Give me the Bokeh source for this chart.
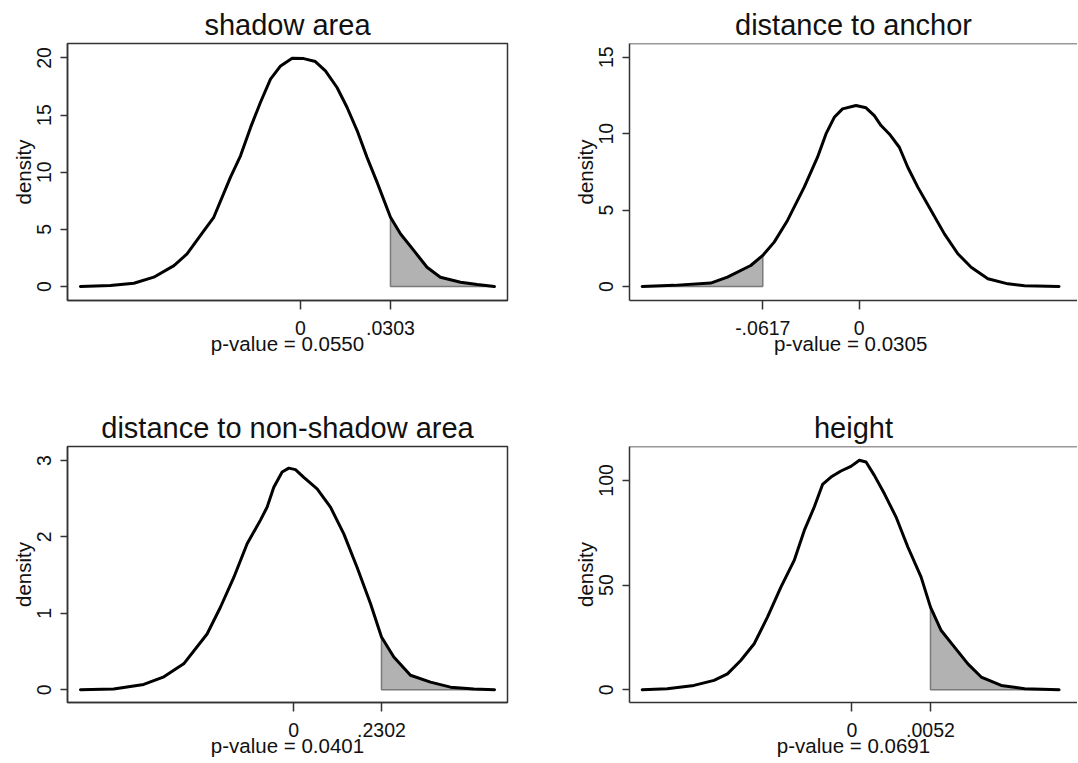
import numpy as np
from bokeh.plotting import figure
from bokeh.layouts import column, row
from bokeh.models import FixedTicker, Range1d, Span
from bokeh.embed import file_html
from bokeh.resources import INLINE

# ---------------- data ----------------
titles = ["shadow area", "distance to anchor", "distance to non-shadow area", "height"]
observed = [0.0303, -0.0617, 0.2302, 0.0052]
observed_labels = [".0303", "-.0617", ".2302", ".0052"]
p_value_labels = ["p-value = 0.0550", "p-value =  0.0305", "p-value = 0.0401", "p-value = 0.0691"]
tail_side = ["right", "left", "right", "right"]
y_ticks = [[0, 5, 10, 15, 20], [0, 5, 10, 15], [0, 1, 2, 3], [0, 50, 100]]

x_shadow = [-0.0741, -0.064, -0.0561, -0.0494, -0.0426, -0.0382, -0.0325, -0.0292, -0.0236,
            -0.0202, -0.0168, -0.0135, -0.0101, -0.0067, -0.0028, 0.0011, 0.005, 0.0084,
            0.0123, 0.0157, 0.0191, 0.0224, 0.0258, 0.0303, 0.0337, 0.0382, 0.0426, 0.0471,
            0.0539, 0.0595, 0.0653]
d_shadow = [0, 0.09, 0.29, 0.82, 1.83, 2.85, 4.89, 6.06, 9.55, 11.44, 13.92, 16.1, 18.14,
            19.3, 19.97, 19.94, 19.68, 18.86, 17.41, 15.66, 13.62, 11.3, 9.11, 6.06, 4.6,
            3.14, 1.69, 0.82, 0.38, 0.17, 0]

x_anchor = [-0.1388, -0.1185, -0.095, -0.0843, -0.0694, -0.0617, -0.0544, -0.0459, -0.0352,
            -0.0267, -0.0213, -0.016, -0.0107, -0.0021, 0.0043, 0.0096, 0.0139, 0.0192,
            0.0256, 0.031, 0.0374, 0.0459, 0.0544, 0.063, 0.0715, 0.0822, 0.095, 0.1057,
            0.1277]
d_anchor = [0, 0.07, 0.22, 0.61, 1.37, 2.03, 2.9, 4.32, 6.5, 8.46, 9.98, 11.07, 11.62, 11.84,
            11.69, 11.18, 10.53, 9.98, 9.11, 7.8, 6.5, 4.97, 3.44, 2.14, 1.26, 0.5, 0.17,
            0.04, 0]

x_nonshadow = [-0.56, -0.473, -0.394, -0.341, -0.289, -0.2276, -0.1926, -0.1575, -0.1225,
               -0.0875, -0.07, -0.0525, -0.0306, -0.0131, 0.0044, 0.0263, 0.0613, 0.0963,
               0.1313, 0.1663, 0.2013, 0.2302, 0.2626, 0.3063, 0.3589, 0.4114, 0.4726, 0.527]
d_nonshadow = [0, 0.01, 0.07, 0.17, 0.34, 0.73, 1.08, 1.47, 1.91, 2.22, 2.39, 2.65, 2.85, 2.9,
               2.88, 2.78, 2.63, 2.39, 2.04, 1.6, 1.13, 0.69, 0.43, 0.19, 0.1, 0.035, 0.01, 0]

x_height = [-0.0139, -0.01224, -0.01047, -0.00914, -0.00825, -0.00737, -0.00648, -0.0056,
            -0.00471, -0.00383, -0.00316, -0.0025, -0.00195, -0.00139, -0.00073, -0.00007,
            0.00049, 0.00093, 0.00148, 0.00215, 0.00292, 0.0037, 0.00458, 0.0052, 0.00591,
            0.00679, 0.00768, 0.00856, 0.00989, 0.01144, 0.01372]
d_height = [0, 0.5, 2.1, 4.5, 7.6, 14, 22, 34.7, 49, 61.8, 76.1, 87.3, 98.1, 101.6, 104.5,
            106.7, 109.6, 108.8, 102.4, 93.6, 82.5, 68.2, 53.8, 39.5, 28.3, 20.4, 12.4, 6.1,
            2.1, 0.5, 0]

xs = [x_shadow, x_anchor, x_nonshadow, x_height]
ds = [d_shadow, d_anchor, d_nonshadow, d_height]

x_ranges = [(-0.07845, 0.0697), (-0.1469, 0.1395), (-0.594, 0.561), (-0.01474, 0.01494)]
y_ranges = [(-1.22, 21.26), (-0.92, 15.9), (-0.166, 3.183), (-6.07, 116.2)]

FONT = "Liberation Sans"
FRAME_COLOR = "#333333"


def make_panel(i, left_col, top_row):
    if top_row:
        mbt, fh, mbb = 43, 257, 90
    else:
        mbt, fh, mbb = 56, 256, 61
    if left_col:
        mbl, fw, mbr = 67, 440, 30
    else:
        mbl, fw, mbr = 92, 448, 0
    p = figure(frame_width=fw, frame_height=fh,
               min_border_left=mbl, min_border_right=mbr,
               min_border_top=mbt, min_border_bottom=mbb,
               x_range=Range1d(*x_ranges[i]), y_range=Range1d(*y_ranges[i]),
               output_backend="svg", toolbar_location=None, title=titles[i])
    p.title.text_font = FONT
    p.title.text_font_size = "29px"
    p.title.text_font_style = "normal"
    p.title.text_color = "#111111"
    p.title.align = "center"
    p.title.standoff = 5

    p.xgrid.visible = False
    p.ygrid.visible = False
    p.background_fill_color = "white"
    p.border_fill_color = "white"
    if left_col:
        p.outline_line_color = FRAME_COLOR
        p.outline_line_width = 1.5
        p.outline_line_alpha = 1.0
    else:
        p.outline_line_color = None
        p.add_layout(Span(location=y_ranges[i][1], dimension="width",
                          line_color=FRAME_COLOR, line_width=1.5))

    x = np.array(xs[i], dtype=float)
    d = np.array(ds[i], dtype=float)
    obs = observed[i]
    d_obs = float(np.interp(obs, x, d))
    if tail_side[i] == "right":
        m = x > obs
        tx = np.concatenate([[obs], x[m]])
        ty = np.concatenate([[d_obs], d[m]])
        px = np.concatenate([[obs], tx, [tx[-1]]])
        py = np.concatenate([[0.0], ty, [0.0]])
    else:
        m = x < obs
        tx = np.concatenate([x[m], [obs]])
        ty = np.concatenate([d[m], [d_obs]])
        px = np.concatenate([[tx[0]], tx, [obs]])
        py = np.concatenate([[0.0], ty, [0.0]])
    p.patch(px, py, fill_color="#b2b2b2", line_color="#7a7a7a", line_width=1.5)
    p.line(x, d, line_color="black", line_width=3, line_join="round", line_cap="round")

    # x axis
    xa = p.xaxis[0]
    xa.ticker = FixedTicker(ticks=sorted([0.0, obs]))
    xa.major_label_overrides = {0.0: "0", obs: observed_labels[i]}
    xa.axis_label = p_value_labels[i]
    xa.minor_tick_line_color = None
    xa.major_tick_out = 9
    xa.major_tick_in = 0
    xa.major_label_standoff = 11
    xa.axis_label_standoff = -6

    # y axis
    ya = p.yaxis[0]
    ya.ticker = FixedTicker(ticks=y_ticks[i])
    ya.axis_label = "density"
    ya.minor_tick_line_color = None
    ya.major_tick_out = 7
    ya.major_tick_in = 0
    ya.major_label_orientation = "vertical"
    ya.major_label_standoff = 9
    ya.axis_label_standoff = 0

    for ax in (xa, ya):
        ax.axis_line_color = FRAME_COLOR
        ax.axis_line_width = 1.5
        ax.major_tick_line_color = FRAME_COLOR
        ax.major_tick_line_width = 1.5
        ax.major_label_text_font = FONT
        ax.major_label_text_font_size = "19.5px"
        ax.major_label_text_color = "#111111"
        ax.axis_label_text_font = FONT
        ax.axis_label_text_font_size = "20.5px"
        ax.axis_label_text_font_style = "normal"
        ax.axis_label_text_color = "#111111"
    return p


p1 = make_panel(0, True, True)
p2 = make_panel(1, False, True)
p3 = make_panel(2, True, False)
p4 = make_panel(3, False, False)

layout = column(row(p1, p2, spacing=0), row(p3, p4, spacing=0), spacing=0)

open("out.html", "w").write(file_html(layout, INLINE))
